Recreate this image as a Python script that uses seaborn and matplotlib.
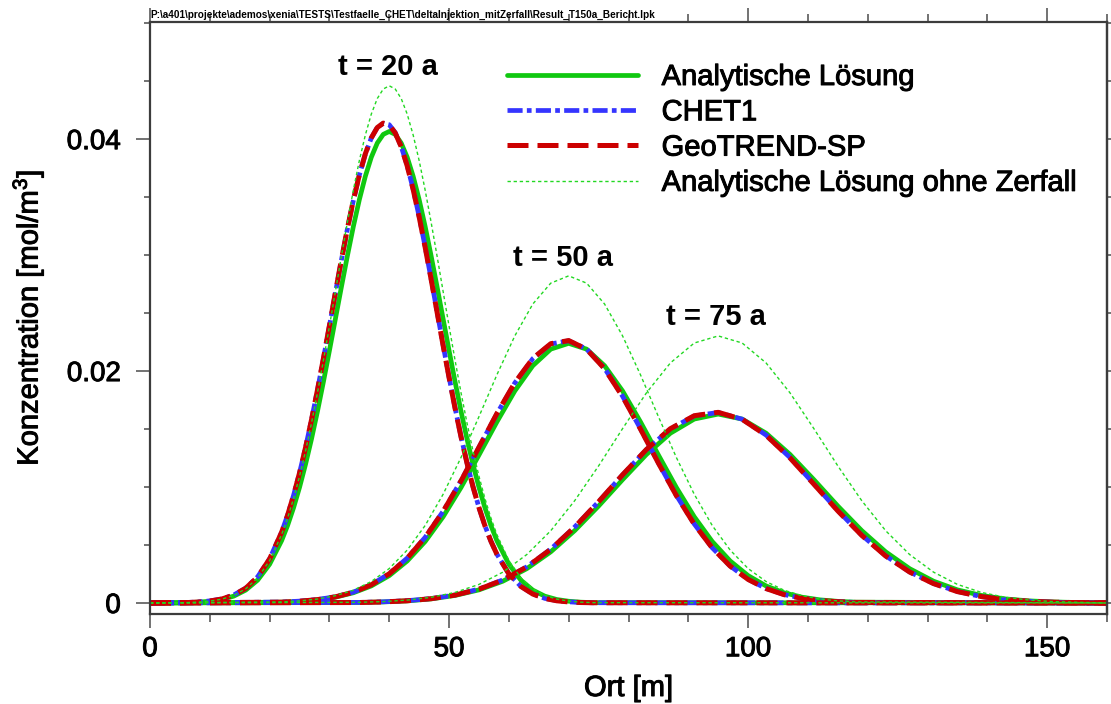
import matplotlib
matplotlib.use("Agg")
import matplotlib.pyplot as plt
import matplotlib.patheffects as pe
import seaborn as sns
import pandas as pd
from matplotlib.ticker import FixedLocator, MultipleLocator, FuncFormatter

# ---------------- data ----------------
x_t20 = [0, 6, 8, 10, 12, 14, 16, 18, 20, 22,
         23, 24, 25, 26, 27, 28, 29, 30, 31, 32, 33, 34, 35, 36, 37, 38, 39, 40,
         41, 42, 43, 44, 45, 46, 47, 48, 49, 50, 51, 52, 53, 54, 55, 56, 57, 58,
         60, 62, 64, 66, 68, 70, 72, 74, 160]
ana_t20 = [0, 0.00003, 0.00007, 0.00015, 0.00030, 0.00059, 0.00111, 0.00197, 0.00334, 0.00537,
           0.00668, 0.00821, 0.00997, 0.01195, 0.01414, 0.01653, 0.01909, 0.02177, 0.02451,
           0.02725, 0.02993, 0.03247, 0.03478, 0.03679, 0.03844, 0.03966, 0.04041, 0.04066,
           0.04041, 0.03966, 0.03844, 0.03679, 0.03478, 0.03247, 0.02993, 0.02725, 0.02451,
           0.02177, 0.01909, 0.01653, 0.01414, 0.01195, 0.00997, 0.00821, 0.00668, 0.00537,
           0.00334, 0.00197, 0.00111, 0.00059, 0.00030, 0.00015, 0.00007, 0.00003, 0]
chet_t20 = [0, 0.00004, 0.00009, 0.00018, 0.00035, 0.00069, 0.00128, 0.00226, 0.00381, 0.00610,
            0.00757, 0.00928, 0.01122, 0.01340, 0.01579, 0.01836, 0.02108, 0.02390, 0.02675,
            0.02956, 0.03224, 0.03471, 0.03690, 0.03870, 0.04010, 0.04101, 0.04136, 0.04124,
            0.04056, 0.03936, 0.03772, 0.03568, 0.03332, 0.03072, 0.02795, 0.02511, 0.02226,
            0.01948, 0.01683, 0.01435, 0.01208, 0.01004, 0.00823, 0.00666, 0.00533, 0.00421,
            0.00252, 0.00144, 0.00078, 0.00040, 0.00020, 0.00010, 0.00004, 0.00002, 0]
geo_t20 = [0, 0.00003, 0.00008, 0.00017, 0.00034, 0.00068, 0.00127, 0.00225, 0.00380, 0.00609,
           0.00756, 0.00927, 0.01121, 0.01339, 0.01579, 0.01837, 0.02110, 0.02392, 0.02678,
           0.02959, 0.03227, 0.03474, 0.03692, 0.03873, 0.04011, 0.04100, 0.04138, 0.04122,
           0.04053, 0.03934, 0.03769, 0.03565, 0.03329, 0.03068, 0.02791, 0.02507, 0.02222,
           0.01944, 0.01680, 0.01432, 0.01206, 0.01002, 0.00822, 0.00665, 0.00532, 0.00420,
           0.00251, 0.00143, 0.00077, 0.00039, 0.00019, 0.00009, 0.00004, 0.00002, 0]
nod_t20 = [0, 0.00003, 0.00007, 0.00016, 0.00033, 0.00065, 0.00122, 0.00217, 0.00366, 0.00589,
           0.00733, 0.00900, 0.01093, 0.01310, 0.01551, 0.01813, 0.02094, 0.02387, 0.02688,
           0.02990, 0.03283, 0.03561, 0.03815, 0.04035, 0.04216, 0.04350, 0.04432, 0.04460,
           0.04432, 0.04350, 0.04216, 0.04035, 0.03815, 0.03561, 0.03283, 0.02990, 0.02688,
           0.02387, 0.02094, 0.01813, 0.01551, 0.01310, 0.01093, 0.00900, 0.00733, 0.00589,
           0.00366, 0.00217, 0.00122, 0.00065, 0.00033, 0.00016, 0.00007, 0.00003, 0]

x_t50 = [0, 22, 25, 28, 31, 34, 37, 40, 43, 46, 49, 52, 55, 58, 61, 64, 67, 70,
         73, 76, 79, 82, 85, 88, 91, 94, 97, 100, 103, 106, 109, 112, 115, 118, 160]
ana_t50 = [0, 0.00007, 0.00014, 0.00027, 0.00050, 0.00088, 0.00147, 0.00236, 0.00362, 0.00530,
           0.00743, 0.00996, 0.01276, 0.01562, 0.01829, 0.02046, 0.02189, 0.02239,
           0.02189, 0.02046, 0.01829, 0.01562, 0.01276, 0.00996, 0.00743, 0.00530, 0.00362,
           0.00236, 0.00147, 0.00088, 0.00050, 0.00027, 0.00014, 0.00007, 0]
chet_t50 = [0, 0.00008, 0.00016, 0.00030, 0.00054, 0.00094, 0.00158, 0.00253, 0.00387, 0.00566,
            0.00790, 0.01054, 0.01342, 0.01632, 0.01898, 0.02107, 0.02234, 0.02261,
            0.02190, 0.02023, 0.01784, 0.01503, 0.01209, 0.00928, 0.00681, 0.00476, 0.00319,
            0.00204, 0.00125, 0.00073, 0.00041, 0.00021, 0.00011, 0.00005, 0]
geo_t50 = [0, 0.00007, 0.00015, 0.00029, 0.00053, 0.00093, 0.00157, 0.00252, 0.00386, 0.00565,
           0.00789, 0.01053, 0.01343, 0.01634, 0.01900, 0.02109, 0.02236, 0.02263,
           0.02188, 0.02020, 0.01781, 0.01500, 0.01206, 0.00926, 0.00679, 0.00475, 0.00318,
           0.00203, 0.00124, 0.00072, 0.00040, 0.00021, 0.00011, 0.00005, 0]
nod_t50 = [0, 0.00009, 0.00018, 0.00034, 0.00063, 0.00110, 0.00185, 0.00297, 0.00456, 0.00668,
           0.00937, 0.01255, 0.01607, 0.01968, 0.02304, 0.02578, 0.02758, 0.02821,
           0.02758, 0.02578, 0.02304, 0.01968, 0.01607, 0.01255, 0.00937, 0.00668, 0.00456,
           0.00297, 0.00185, 0.00110, 0.00063, 0.00034, 0.00018, 0.00009, 0]

x_t75 = [0, 35, 39, 43, 47, 51, 55, 59, 63, 67, 71, 75, 79, 83, 87, 91, 95,
         99, 103, 107, 111, 115, 119, 123, 127, 131, 135, 139, 143, 147, 151, 155, 160]
ana_t75 = [0, 0.00004, 0.00009, 0.00018, 0.00035, 0.00065, 0.00113, 0.00188, 0.00296, 0.00441,
           0.00624, 0.00836, 0.01063, 0.01281, 0.01464, 0.01586, 0.01629,
           0.01586, 0.01464, 0.01281, 0.01063, 0.00836, 0.00624, 0.00441, 0.00296, 0.00188,
           0.00113, 0.00065, 0.00035, 0.00018, 0.00009, 0.00004, 0]
chet_t75 = [0, 0.00005, 0.00010, 0.00020, 0.00038, 0.00069, 0.00120, 0.00199, 0.00312, 0.00464,
            0.00655, 0.00873, 0.01104, 0.01322, 0.01501, 0.01613, 0.01643,
            0.01585, 0.01448, 0.01254, 0.01027, 0.00797, 0.00585, 0.00407, 0.00268, 0.00168,
            0.00099, 0.00055, 0.00029, 0.00015, 0.00007, 0.00003, 0]
geo_t75 = [0, 0.00004, 0.00009, 0.00019, 0.00037, 0.00068, 0.00119, 0.00198, 0.00311, 0.00463,
           0.00654, 0.00873, 0.01105, 0.01324, 0.01503, 0.01615, 0.01644,
           0.01584, 0.01446, 0.01251, 0.01024, 0.00794, 0.00583, 0.00405, 0.00267, 0.00167,
           0.00098, 0.00055, 0.00029, 0.00015, 0.00007, 0.00003, 0]
nod_t75 = [0, 0.00006, 0.00012, 0.00025, 0.00049, 0.00091, 0.00160, 0.00266, 0.00418, 0.00623,
           0.00882, 0.01182, 0.01503, 0.01812, 0.02070, 0.02242, 0.02303,
           0.02242, 0.02070, 0.01812, 0.01503, 0.01182, 0.00882, 0.00623, 0.00418, 0.00266,
           0.00160, 0.00091, 0.00049, 0.00025, 0.00012, 0.00006, 0]

series_labels = ["Analytische Lösung", "CHET1", "GeoTREND-SP",
                 "Analytische Lösung ohne Zerfall"]
time_labels = ["t = 20 a", "t = 50 a", "t = 75 a"]
x_ticks = [0, 50, 100, 150]
y_ticks = [0, 0.02, 0.04]
path_text = r"P:\a401\projekte\ademos\xenia\TESTS\Testfaelle_CHET\deltaInjektion_mitZerfall\Result_T150a_Bericht.lpk"

# ---------------- build long table ----------------
rows = []
grid = {"20": x_t20, "50": x_t50, "75": x_t75}
vals = {
    "Analytische Lösung": {"20": ana_t20, "50": ana_t50, "75": ana_t75},
    "CHET1": {"20": chet_t20, "50": chet_t50, "75": chet_t75},
    "GeoTREND-SP": {"20": geo_t20, "50": geo_t50, "75": geo_t75},
    "Analytische Lösung ohne Zerfall": {"20": nod_t20, "50": nod_t50, "75": nod_t75},
}
for s in series_labels:
    for t in ["20", "50", "75"]:
        for xv, yv in zip(grid[t], vals[s][t]):
            rows.append({"x": xv, "c": yv, "series": s, "t": t})
df = pd.DataFrame(rows)

styles = {
    "Analytische Lösung": dict(color="#10c810", lw=3.4, ls="-"),
    "CHET1": dict(color="#3535ff", lw=3.4, ls=(0, (3.2, 0.9, 1.0, 0.9))),
    "GeoTREND-SP": dict(color="#cc0000", lw=3.6, ls=(0, (4.2, 1.8))),
    "Analytische Lösung ohne Zerfall": dict(color="#22d822", lw=1.0, ls=(0, (2.4, 2.0))),
}

# ---------------- plot ----------------
sns.set_style("ticks")
plt.rcParams['font.family'] = ['Liberation Sans', 'DejaVu Sans']
plt.rcParams['mathtext.fontset'] = 'custom'
plt.rcParams['mathtext.rm'] = 'Liberation Sans'
plt.rcParams['mathtext.it'] = 'Liberation Sans:italic'
plt.rcParams['mathtext.bf'] = 'Liberation Sans:bold'
plt.rcParams['text.color'] = 'black'
plt.rcParams['axes.labelcolor'] = 'black'
plt.rcParams['xtick.labelcolor'] = 'black'
plt.rcParams['ytick.labelcolor'] = 'black'

heavy = [pe.withStroke(linewidth=0.7, foreground="black")]

W, H = 1111, 704
fig = plt.figure(figsize=(W / 100, H / 100), dpi=100)
L, R, T, B = 150, 1107, 22, 614
ax = fig.add_axes([L / W, 1 - B / H, (R - L) / W, (B - T) / H])

handles = {}
for s in series_labels:
    st = styles[s]
    for t in ["20", "50", "75"]:
        sub = df[(df.series == s) & (df.t == t)]
        sns.lineplot(data=sub, x="x", y="c", ax=ax, sort=False, estimator=None,
                     color=st["color"], linewidth=st["lw"], linestyle=st["ls"],
                     legend=False)
        if t == "20":
            handles[s] = ax.lines[-1]

ax.set_xlim(0, 160)
ax.set_ylim(-0.00095, 0.0501)

ax.xaxis.set_major_locator(FixedLocator(x_ticks))
ax.xaxis.set_minor_locator(MultipleLocator(10))
ax.yaxis.set_major_locator(FixedLocator(y_ticks))
ax.yaxis.set_minor_locator(MultipleLocator(0.005))
ax.yaxis.set_major_formatter(FuncFormatter(lambda v, p: "0" if abs(v) < 1e-12 else f"{v:.2f}"))
ax.xaxis.set_major_formatter(FuncFormatter(lambda v, p: f"{v:.0f}"))

tick_col = "#5a5a5a"
ax.tick_params(axis="x", which="major", direction="out", length=10, width=1.2,
               color=tick_col, labelsize=20, pad=6, top=True, bottom=True)
ax.tick_params(axis="x", which="minor", direction="out", length=5.5, width=1.2,
               color=tick_col, top=True, bottom=True)
ax.tick_params(axis="y", which="major", direction="out", length=10, width=1.2,
               color=tick_col, labelsize=20, pad=11, left=True, right=False)
ax.tick_params(axis="y", which="minor", direction="out", length=4.5, width=1.2,
               color=tick_col, left=True, right=False)

for sp in ax.spines.values():
    sp.set_visible(True)
    sp.set_color("#3c3c3c")
    sp.set_linewidth(1.6)

# right-side short ticks
ax2 = ax.twinx()
ax2.set_ylim(ax.get_ylim())
ax2.yaxis.set_major_locator(MultipleLocator(0.005))
ax2.tick_params(axis="y", which="major", direction="out", length=3, width=1.2,
                color=tick_col, labelright=False, right=True)
for k, sp in ax2.spines.items():
    sp.set_visible(k == "right")
    sp.set_color("#3c3c3c")
    sp.set_linewidth(1.6)

ax.set_xlabel("Ort [m]", fontsize=21)
ax.set_ylabel("Konzentration [mol/m$^{3}$]", fontsize=21)
ax.xaxis.label.set_va("center")
ax.yaxis.label.set_va("center")
ax.xaxis.set_label_coords(0.5, (B - 688) / (B - T))
ax.yaxis.set_label_coords((28 - L) / (R - L), 0.5)
ax.xaxis.label.set_path_effects(heavy)
ax.yaxis.label.set_path_effects(heavy)
for lab in ax.get_xticklabels() + ax.get_yticklabels():
    lab.set_path_effects(heavy)

ax.text(39.8, 0.0455, time_labels[0], fontsize=21, fontweight="bold", ha="center", va="baseline")
ax.text(69.1, 0.02905, time_labels[1], fontsize=21, fontweight="bold", ha="center", va="baseline")
ax.text(94.6, 0.02397, time_labels[2], fontsize=21, fontweight="bold", ha="center", va="baseline")

leg = ax.legend([handles[s] for s in series_labels], series_labels,
                loc="upper left", bbox_to_anchor=(507 / W, 1 - 63 / H),
                bbox_transform=fig.transFigure, frameon=False, fontsize=21,
                handlelength=4.5, handletextpad=0.8, labelspacing=0.25,
                borderpad=0, borderaxespad=0)
for txt in leg.get_texts():
    txt.set_path_effects(heavy)

fig.text(L / W, 1 - 15 / H, path_text, fontsize=7.2, fontweight="bold", ha="left", va="center")

fig.savefig("out.png", dpi=100)
